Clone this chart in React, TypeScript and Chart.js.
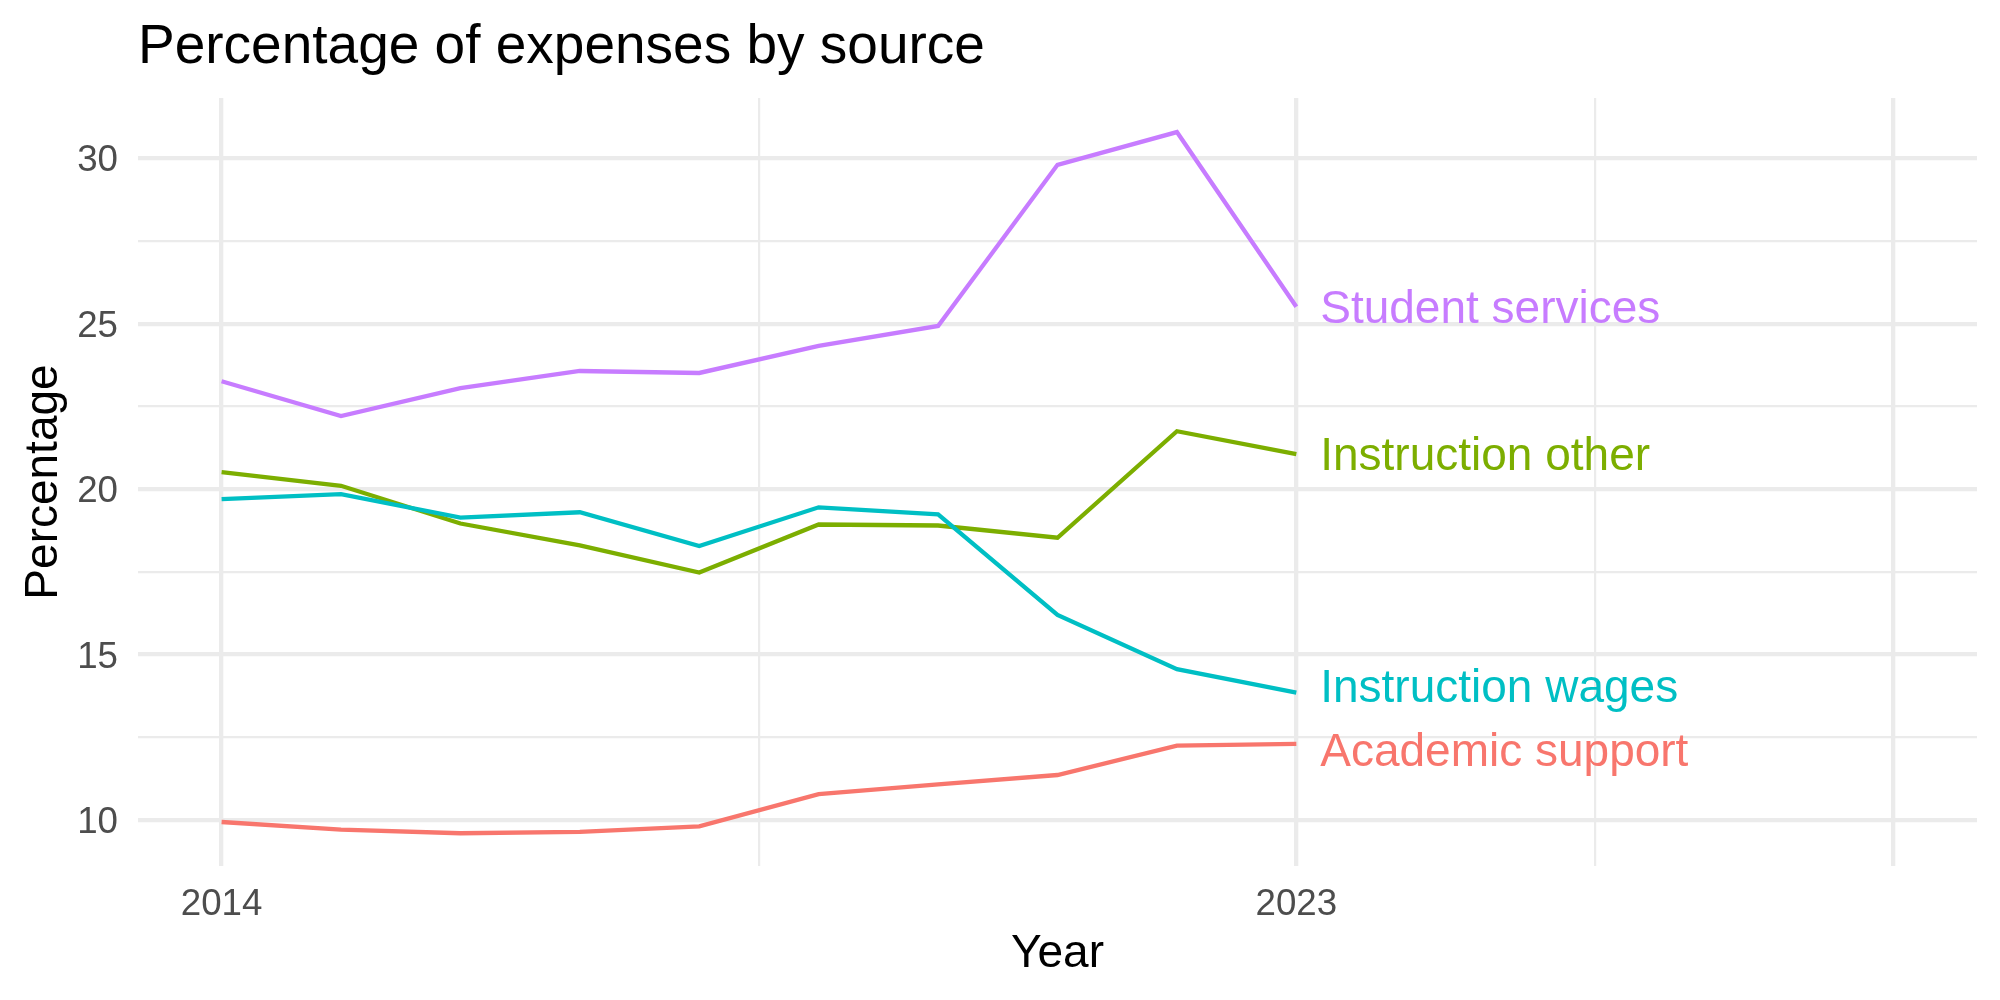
import React, { useEffect, useRef } from "react";
import { Chart, registerables } from "chart.js";

Chart.register(...registerables);

const years = [2014, 2015, 2016, 2017, 2018, 2019, 2020, 2021, 2022, 2023];

const academicSupport = [9.94, 9.71, 9.6, 9.64, 9.81, 10.78, 11.08, 11.36, 12.25, 12.3];
const instructionOther = [20.51, 20.1, 18.96, 18.3, 17.48, 18.93, 18.9, 18.53, 21.75, 21.06];
const instructionWages = [19.7, 19.85, 19.14, 19.3, 18.28, 19.45, 19.24, 16.2, 14.56, 13.85];
const studentServices = [23.26, 22.21, 23.05, 23.57, 23.51, 24.33, 24.93, 29.8, 30.79, 25.51];

const seriesNames = ["Academic support", "Instruction other", "Instruction wages", "Student services"];
const seriesValues = [academicSupport, instructionOther, instructionWages, studentServices];
const seriesColors = ["#F8766D", "#7CAE00", "#00BFC4", "#C77CFF"];

const xTicks = [2014, 2018.5, 2023, 2025.5, 2028];
const xMajor = [2014, 2023, 2028];
const xLabels = [2014, 2023];
const yTicks = [10, 12.5, 15, 17.5, 20, 22.5, 25, 27.5, 30];
const yMajor = [10, 15, 20, 25, 30];

const FONT = "'Liberation Sans', Arial, Helvetica, sans-serif";
const GRID = "#EBEBEB";

// End-of-line series names, nudged right of the last point and spread apart when crowded
const endLabels = {
  id: "endLabels",
  afterDatasetsDraw(chart: any) {
    const { ctx } = chart;
    const xScale = chart.scales.x;
    const size = 46;
    ctx.save();
    ctx.font = `${size}px ${FONT}`;
    const capH = ctx.measureText("H").actualBoundingBoxAscent;
    const items = chart.data.datasets.map((ds: any, i: number) => {
      const meta = chart.getDatasetMeta(i);
      const last = meta.data[meta.data.length - 1];
      const lastX = ds.data[ds.data.length - 1].x;
      return {
        text: ds.label,
        color: ds.borderColor,
        x: xScale.getPixelForValue(lastX + 0.2),
        y: last.y,
      };
    });
    const sorted = [...items].sort((a, b) => a.y - b.y);
    const minGap = 64;
    for (let iter = 0; iter < 20; iter++) {
      for (let k = 0; k < sorted.length - 1; k++) {
        const a = sorted[k];
        const b = sorted[k + 1];
        const gap = b.y - a.y;
        if (gap < minGap) {
          const push = (minGap - gap) / 2;
          a.y -= push;
          b.y += push;
        }
      }
    }
    ctx.textAlign = "left";
    ctx.textBaseline = "alphabetic";
    for (const it of items) {
      ctx.fillStyle = it.color;
      ctx.fillText(it.text, it.x, it.y + capH / 2);
    }
    ctx.restore();
  },
};

export default function App() {
  const canvasRef = useRef<HTMLCanvasElement | null>(null);

  useEffect(() => {
    if (!canvasRef.current) return;
    const datasets = seriesNames.map((name, i) => ({
      label: name,
      data: years.map((yr, j) => ({ x: yr, y: seriesValues[i][j] })),
      borderColor: seriesColors[i],
      backgroundColor: seriesColors[i],
      borderWidth: 4.3,
      pointRadius: 0,
      tension: 0,
      fill: false,
      order: seriesNames.length - 1 - i,
    }));

    const chart = new Chart(canvasRef.current, {
      type: "line",
      data: { datasets },
      plugins: [endLabels],
      options: {
        responsive: false,
        devicePixelRatio: 1,
        animation: false,
        layout: { padding: { left: 0, right: 23, top: 0, bottom: 0 } },
        plugins: {
          legend: { display: false },
          tooltip: { enabled: false },
          title: {
            display: true,
            text: "Percentage of expenses by source",
            align: "start",
            fullSize: false,
            color: "#000000",
            font: { family: FONT, size: 55, weight: "normal", lineHeight: 1.2 },
            padding: { top: 15.3, bottom: 16.7 },
          },
        },
        scales: {
          x: {
            type: "linear",
            min: 2013.3,
            max: 2028.7,
            afterBuildTicks: (scale: any) => {
              scale.ticks = xTicks.map((v) => ({ value: v }));
            },
            afterFit: (scale: any) => {
              scale.height = 134;
            },
            border: { display: false },
            grid: {
              color: GRID,
              drawTicks: false,
              lineWidth: (c: any) => (c.tick && xMajor.includes(c.tick.value) ? 4.3 : 2.2),
            },
            ticks: {
              autoSkip: false,
              maxRotation: 0,
              minRotation: 0,
              padding: 17.2,
              color: "#4D4D4D",
              font: { family: FONT, size: 36.7, lineHeight: 1.2 },
              callback: (v: any) => (xLabels.includes(Number(v)) ? String(v) : ""),
            },
            title: {
              display: true,
              text: "Year",
              color: "#000000",
              font: { family: FONT, size: 46, lineHeight: 1.2 },
              padding: { top: 0, bottom: 17.9 },
            },
          },
          y: {
            type: "linear",
            min: 8.61,
            max: 31.82,
            afterBuildTicks: (scale: any) => {
              scale.ticks = yTicks.map((v) => ({ value: v }));
            },
            afterFit: (scale: any) => {
              scale.width = 138;
            },
            border: { display: false },
            grid: {
              color: GRID,
              drawTicks: false,
              lineWidth: (c: any) => (c.tick && yMajor.includes(c.tick.value) ? 4.3 : 2.2),
            },
            ticks: {
              autoSkip: false,
              padding: 20,
              labelOffset: 2.9,
              color: "#4D4D4D",
              font: { family: FONT, size: 36.7, lineHeight: 1.2 },
              callback: (v: any) => (yMajor.includes(Number(v)) ? String(v) : ""),
            },
            title: {
              display: true,
              text: "Percentage",
              color: "#000000",
              font: { family: FONT, size: 46, lineHeight: 1.2 },
              padding: { top: 16.9, bottom: 0 },
            },
          },
        },
      },
    } as any);

    return () => chart.destroy();
  }, []);

  return (
    <div style={{ position: "fixed", left: 0, top: 0, width: 2000, height: 1000, background: "#ffffff" }}>
      <canvas ref={canvasRef} width={2000} height={1000} style={{ display: "block" }} />
    </div>
  );
}
